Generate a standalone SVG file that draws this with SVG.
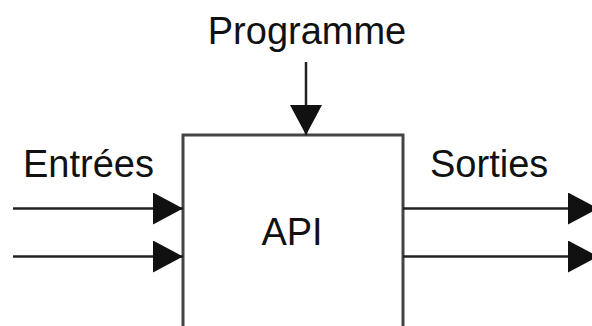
<svg xmlns="http://www.w3.org/2000/svg" width="592" height="326" viewBox="0 0 592 326">
  <style>
    .lbl { font-family: "Liberation Sans", Arial, sans-serif; font-size: 38px; fill: #111; }
    .box { fill: #fff; stroke: #444; stroke-width: 3; }
    .wire { fill: none; stroke: #222; stroke-width: 2.5; }
  </style>
  <defs>
    <marker id="head" markerUnits="userSpaceOnUse" markerWidth="32" markerHeight="32" viewBox="0 0 30 32" refX="30" refY="16" orient="auto">
      <path d="M0,0 L30,16 L0,32 Z" fill="#111"/>
    </marker>
  </defs>
  <rect width="592" height="326" fill="#fff"/>

  <!-- processing block, open at the bottom edge -->
  <g id="api">
    <rect class="box" x="183" y="135" width="220" height="210"/>
    <text class="lbl" x="292" y="245" text-anchor="middle">API</text>
  </g>

  <g id="programme">
    <text class="lbl" x="307" y="44" text-anchor="middle">Programme</text>
  </g>

  <g id="entrees">
    <text class="lbl" x="23" y="177">Entrées</text>
  </g>

  <g id="sorties">
    <text class="lbl" x="430" y="177">Sorties</text>
  </g>

  <g id="connectors">
    <line class="wire" x1="306" y1="62" x2="306" y2="135" marker-end="url(#head)"/>
    <line class="wire" x1="13" y1="208.5" x2="183" y2="208.5" marker-end="url(#head)"/>
    <line class="wire" x1="13" y1="256.5" x2="183" y2="256.5" marker-end="url(#head)"/>
    <line class="wire" x1="403" y1="208.5" x2="598" y2="208.5" marker-end="url(#head)"/>
    <line class="wire" x1="403" y1="256.5" x2="598" y2="256.5" marker-end="url(#head)"/>
  </g>
</svg>
